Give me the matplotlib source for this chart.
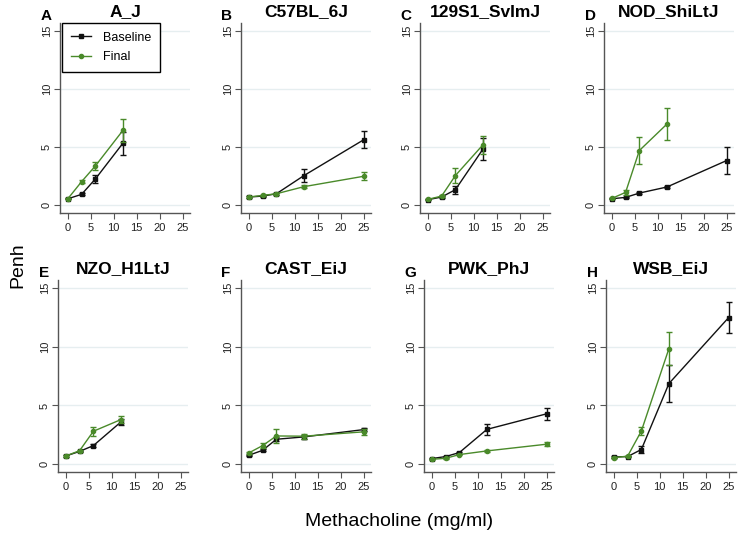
import matplotlib
matplotlib.use("Agg")
import matplotlib.pyplot as plt
from matplotlib.lines import Line2D

plt.rcParams['font.family'] = ['Liberation Sans', 'DejaVu Sans']

doses = [0, 3, 6, 12, 25]

strains = ["A_J", "C57BL_6J", "129S1_SvImJ", "NOD_ShiLtJ",
           "NZO_H1LtJ", "CAST_EiJ", "PWK_PhJ", "WSB_EiJ"]
letters = ["A", "B", "C", "D", "E", "F", "G", "H"]

base_A = [0.57, 0.95, 2.27, 5.34]
base_A_err = [0.05, 0.08, 0.33, 1.0]
final_A = [0.57, 2.04, 3.39, 6.44]
final_A_err = [0.05, 0.1, 0.37, 0.98]

base_B = [0.72, 0.80, 1.00, 2.56, 5.63]
base_B_err = [0.05, 0.05, 0.08, 0.57, 0.72]
final_B = [0.72, 0.86, 1.00, 1.61, 2.50]
final_B_err = [0.05, 0.06, 0.08, 0.15, 0.35]

base_C = [0.49, 0.72, 1.35, 4.83]
base_C_err = [0.05, 0.05, 0.33, 0.95]
final_C = [0.52, 0.80, 2.56, 5.20]
final_C_err = [0.05, 0.06, 0.65, 0.75]

base_D = [0.57, 0.69, 1.06, 1.58, 3.85]
base_D_err = [0.05, 0.05, 0.1, 0.12, 1.15]
final_D = [0.60, 1.12, 4.71, 6.98]
final_D_err = [0.05, 0.22, 1.19, 1.39]

base_E = [0.71, 1.10, 1.59, 3.60]
base_E_err = [0.05, 0.06, 0.1, 0.25]
final_E = [0.71, 1.16, 2.81, 3.80]
final_E_err = [0.05, 0.08, 0.4, 0.28]

base_F = [0.77, 1.19, 2.13, 2.33, 2.95]
base_F_err = [0.06, 0.08, 0.15, 0.15, 0.15]
final_F = [0.97, 1.59, 2.41, 2.39, 2.76]
final_F_err = [0.08, 0.2, 0.57, 0.2, 0.25]

base_G = [0.49, 0.66, 1.00, 2.97, 4.29]
base_G_err = [0.05, 0.06, 0.08, 0.47, 0.49]
final_G = [0.43, 0.51, 0.83, 1.14, 1.71]
final_G_err = [0.04, 0.05, 0.06, 0.08, 0.15]

base_H = [0.63, 0.66, 1.26, 6.86, 12.46]
base_H_err = [0.05, 0.05, 0.33, 1.57, 1.33]
final_H = [0.57, 0.69, 2.83, 9.83]
final_H_err = [0.05, 0.06, 0.36, 1.4]

baseline = [base_A, base_B, base_C, base_D, base_E, base_F, base_G, base_H]
baseline_err = [base_A_err, base_B_err, base_C_err, base_D_err,
                base_E_err, base_F_err, base_G_err, base_H_err]
final = [final_A, final_B, final_C, final_D, final_E, final_F, final_G, final_H]
final_err = [final_A_err, final_B_err, final_C_err, final_D_err,
             final_E_err, final_F_err, final_G_err, final_H_err]

GREEN = '#4a8a2a'
BLACK = '#111111'
GRID = '#e6eef0'
SPINE = '#555555'

W, H = 739, 534
fig = plt.figure(figsize=(W / 100, H / 100), dpi=100)

lefts = [60, 241, 420, 604, 58, 241, 424, 606]
tops = [23, 23, 23, 23, 280, 280, 280, 280]
bottoms = [213, 213, 213, 213, 472, 472, 472, 472]
aw = 130

for i in range(8):
    l, t, b = lefts[i], tops[i], bottoms[i]
    ax = fig.add_axes([l / W, (H - b) / H, aw / W, (b - t) / H])
    ax.set_xlim(-1.7, 26.6)
    ax.set_ylim(-0.65, 15.65)
    for y in [0, 5, 10, 15]:
        ax.axhline(y, color=GRID, lw=1.0, zorder=0)
    xb = doses[:len(baseline[i])]
    xf = doses[:len(final[i])]
    ax.errorbar(xb, baseline[i], yerr=baseline_err[i], color=BLACK, lw=1.0,
                marker='s', ms=3.2, capsize=2.5, elinewidth=1.0, capthick=1.0, zorder=3)
    ax.errorbar(xf, final[i], yerr=final_err[i], color=GREEN, lw=1.0,
                marker='o', ms=3.0, capsize=2.5, elinewidth=1.0, capthick=1.0, zorder=4)
    ax.set_xticks([0, 5, 10, 15, 20, 25])
    ax.set_yticks([0, 5, 10, 15])
    ax.tick_params(axis='both', direction='out', length=4, width=0.8, color=SPINE,
                   labelsize=8, pad=3, labelcolor='#222222')
    ax.tick_params(axis='y', pad=2)
    for lab in ax.get_yticklabels():
        lab.set_rotation(90)
        lab.set_va('center')
    for s in ['top', 'right']:
        ax.spines[s].set_visible(False)
    for s in ['left', 'bottom']:
        ax.spines[s].set_color(SPINE)
        ax.spines[s].set_linewidth(1.0)
    ax.set_title(strains[i], fontsize=12.5, fontweight='bold', pad=5)
    ax.text(-0.15, 1.0, letters[i], transform=ax.transAxes, fontsize=11,
            fontweight='bold', ha='left', va='bottom')
    ax.patch.set_alpha(0)
    if i == 0:
        handles = [Line2D([], [], color=BLACK, marker='s', ms=3.2, lw=1.0),
                   Line2D([], [], color=GREEN, marker='o', ms=3.0, lw=1.0)]
        leg = ax.legend(handles, ['Baseline', 'Final'], loc='upper left',
                        bbox_to_anchor=(0.015, 1.0), borderaxespad=0, fontsize=9,
                        frameon=True, fancybox=False, framealpha=1,
                        edgecolor='black', handlelength=1.6, handletextpad=1.0,
                        labelspacing=0.6, borderpad=0.7)
        leg.get_frame().set_linewidth(1.0)

fig.text(18 / W, 1 - 265 / H, 'Penh', rotation=90, fontsize=14, ha='center', va='center')
fig.text(399 / W, 1 - 522 / H, 'Methacholine (mg/ml)', fontsize=14, ha='center', va='center')

fig.savefig('out.png', dpi=100)
